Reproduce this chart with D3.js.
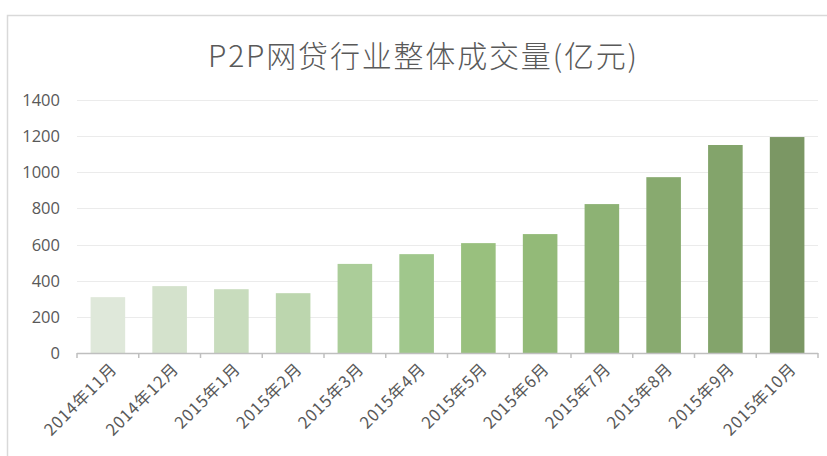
<!DOCTYPE html>
<html lang="zh">
<head>
<meta charset="utf-8">
<script src="https://d3js.org/d3.v7.min.js"></script>
<style>
  body { margin: 0; background: #fff; }
  text { font-family: "Open Sans", "Noto Sans CJK SC", sans-serif; }
</style>
</head>
<body>
<script>
  var width = 827,
      height = 456;

  // data
  var months = ["2014年11月", "2014年12月", "2015年1月", "2015年2月", "2015年3月", "2015年4月",
                "2015年5月", "2015年6月", "2015年7月", "2015年8月", "2015年9月", "2015年10月"];
  var volume = [309, 370, 353, 331, 493, 547, 608, 658, 824, 973, 1151, 1195];
  var yTicks = [0, 200, 400, 600, 800, 1000, 1200, 1400];
  var barColours = ["#dfe8da", "#d4e2cc", "#c8dcbd", "#bcd6ae", "#abcd99", "#a0c78c",
                    "#99c07e", "#93ba78", "#8db274", "#88aa6f", "#83a46b", "#7b9764"];

  var margin = {top: 100, left: 77, right: 9, bottom: 103};

  var svg = d3.select('body')
    .append('svg')
    .attr('width', width)
    .attr('height', height);

  // chart frame
  svg.append('rect')
    .attr('x', 7.5).attr('y', 15.5)
    .attr('width', 900).attr('height', 600)
    .attr('fill', 'none')
    .attr('stroke', '#d9d9d9')
    .attr('stroke-width', 1.5);

  svg.append('text')
    .attr('x', 422.5)
    .attr('y', 67)
    .attr('text-anchor', 'middle')
    .attr('textLength', 429)
    .attr('lengthAdjust', 'spacing')
    .style('font-family', '"Noto Sans CJK SC", sans-serif')
    .style('font-weight', 300)
    .style('font-size', '30px')
    .style('fill', '#595959')
    .text('P2P网贷行业整体成交量(亿元)');

  var x = d3.scaleBand()
    .domain(months)
    .range([margin.left, width - margin.right])
    .paddingInner(0.44)
    .paddingOuter(0.22);

  var y = d3.scaleLinear()
    .domain([0, 1400])
    .range([height - margin.bottom, margin.top]);

  // gridlines
  svg.append('g')
    .selectAll('line')
    .data(yTicks.slice(1))
    .join('line')
    .attr('x1', margin.left)
    .attr('x2', width - margin.right)
    .attr('y1', function(d) { return Math.round(y(d)) + 0.5; })
    .attr('y2', function(d) { return Math.round(y(d)) + 0.5; })
    .attr('stroke', '#ebebeb');

  // y labels
  svg.append('g')
    .selectAll('text')
    .data(yTicks)
    .join('text')
    .attr('x', 60)
    .attr('y', function(d) { return y(d); })
    .attr('dy', '0.36em')
    .attr('text-anchor', 'end')
    .style('font-size', '16.5px')
    .style('fill', '#595959')
    .text(function(d) { return d; });

  // bars
  svg.append('g')
    .selectAll('rect')
    .data(volume)
    .join('rect')
    .attr('x', function(d, i) { return x(months[i]); })
    .attr('width', x.bandwidth())
    .attr('y', function(d) { return y(d); })
    .attr('height', function(d) { return y(0) - y(d); })
    .attr('fill', function(d, i) { return barColours[i]; });

  // x axis line and ticks between categories
  var base = y(0);
  var step = x.step();
  svg.append('line')
    .attr('x1', margin.left).attr('x2', width - margin.right)
    .attr('y1', base + 0.5).attr('y2', base + 0.5)
    .attr('stroke', '#bfbfbf')
    .attr('stroke-width', 1.5);
  svg.append('g')
    .selectAll('line')
    .data(d3.range(months.length + 1))
    .join('line')
    .attr('x1', function(i) { return margin.left + i * step; })
    .attr('x2', function(i) { return margin.left + i * step; })
    .attr('y1', base)
    .attr('y2', base + 5)
    .attr('stroke', '#bfbfbf')
    .attr('stroke-width', 1.5);

  // x labels, rotated
  svg.append('g')
    .selectAll('text')
    .data(months)
    .join('text')
    .attr('transform', function(d) {
      return 'translate(' + (x(d) + x.bandwidth() / 2 + 6) + ',' + (base + 13) + ') rotate(-45)';
    })
    .attr('text-anchor', 'end')
    .attr('dy', '0.35em')
    .style('font-family', '"Noto Sans CJK SC", sans-serif')
    .style('font-size', '16.5px')
    .style('letter-spacing', '0.8px')
    .style('fill', '#595959')
    .text(function(d) { return d; });
</script>
</body>
</html>
